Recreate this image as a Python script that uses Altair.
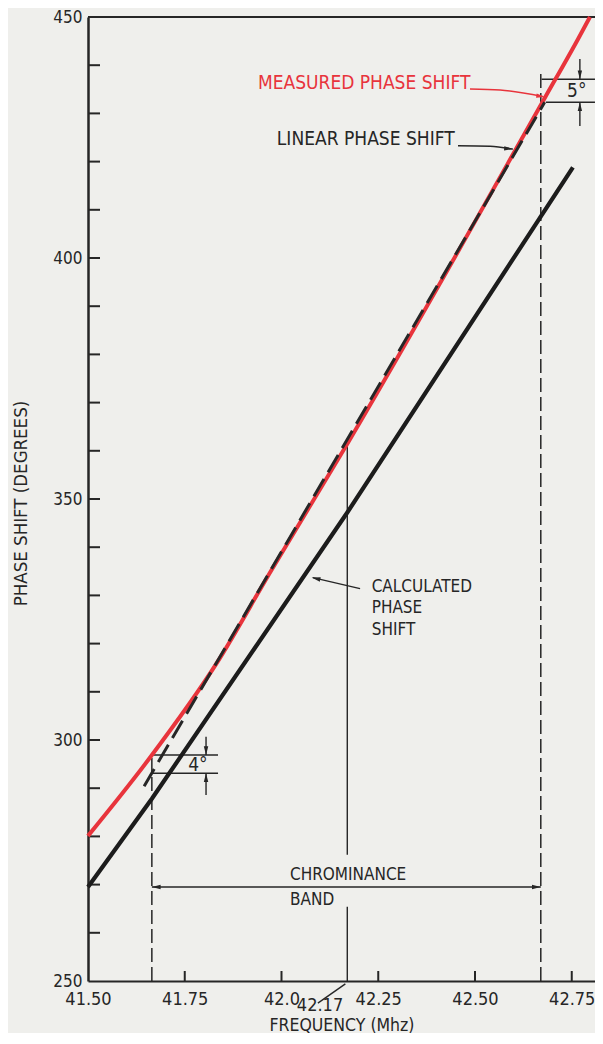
import altair as alt
import pandas as pd

FONT = "DejaVu Sans Condensed, Liberation Sans Narrow, DejaVu Sans, sans-serif"
RED = "#e8343c"
INK = "#262626"
BG = "#efefec"

W, H = 507, 964
X_MIN = 41.5
X_MAX = 41.5 + W / 387.0
Y_MIN, Y_MAX = 250, 450

# ---- data ----
calc_freq = [41.50, 41.665, 42.17, 42.753]
calc_phase = [269.5, 287.8, 347.2, 418.8]

meas_freq = [41.50, 41.656, 41.833, 41.97, 42.174, 42.681, 42.766, 42.797]
meas_phase = [280.1, 295.9, 316.0, 334.7, 362.0, 433.3, 445.4, 450.0]

lin_freq = [41.645, 42.68]
lin_phase = [290.4, 432.3]

band_lo, band_hi, band_center = 41.665, 42.67, 42.17

x_tick_values = [41.50, 41.75, 42.0, 42.25, 42.50, 42.75]
x_inner_ticks = [41.75, 42.0, 42.25, 42.50, 42.75]
y_tick_values = [250, 300, 350, 400, 450]
y_inner_ticks = [260, 270, 280, 290, 300, 310, 320, 330, 340, 350,
                 360, 370, 380, 390, 400, 410, 420, 430, 440]

# annotation texts
txt_labels = ["MEASURED PHASE SHIFT", "LINEAR PHASE SHIFT", "4°", "5°", "42.17"]
txt_f = [41.939, 41.988, 41.784, 42.763, 42.0995]
txt_p = [436.4, 424.7, 294.9, 434.7, 244.8]
txt_col = [RED, INK, INK, INK, INK]
txt_size = [19, 19, 19, 19, 18]
txt_align = ["left", "left", "center", "center", "center"]

blk_labels = ["CALCULATED\nPHASE\nSHIFT", "CHROMINANCE\nBAND"]
blk_f = [42.233, 42.022]
blk_p = [333.5, 273.6]
blk_lh = [21.7, 25.0]

# thin dimension lines (from f,p to f2,p2)
rule_f = [41.665, 41.665, 41.805, 41.805, 42.672, 42.683, 42.771, 42.771,
          band_lo, band_center, band_center]
rule_f2 = [41.836, 41.836, 41.805, 41.805, 42.81, 42.81, 42.771, 42.771,
           band_hi, band_center, band_center]
rule_p = [296.9, 293.1, 300.7, 293.1, 437.1, 432.3, 441.3, 432.3,
          269.5, 250.0, 276.2]
rule_p2 = [296.9, 293.1, 296.9, 288.6, 437.1, 432.3, 437.1, 427.4,
           269.5, 265.4, 362.0]

# dashed band edges
dash_f = [band_lo, band_hi]
dash_p2 = [297.0, 438.6]

# leader lines
lead_g = ["m", "m", "m", "l", "l", "l", "c", "c", "k", "k"]
lead_f = [42.487, 42.565, 42.675, 42.456, 42.539, 42.598, 42.203, 42.081, 42.094, 42.165]
lead_p = [435.05, 434.84, 433.5, 423.3, 423.2, 422.6, 331.4, 333.7, 245.4, 249.4]
lead_c = [RED, RED, RED, INK, INK, INK, INK, INK, INK, INK]

# arrow heads (tip position, direction in degrees clockwise from +x)
head_f = [band_hi, band_lo, 41.805, 41.805, 42.771, 42.771, 42.681, 42.598, 42.078]
head_p = [269.5, 269.5, 296.9, 293.1, 437.1, 432.3, 433.4, 422.6, 333.7]
head_a = [0, 180, 90, 270, 90, 270, 8.6, 4.3, 192.8]
head_c = [INK, INK, INK, INK, INK, INK, RED, INK, INK]

# ---- scales / axes ----
xs = alt.Scale(domain=[X_MIN, X_MAX], nice=False, zero=False)
ys = alt.Scale(domain=[Y_MIN, Y_MAX], nice=False, zero=False)

x_axis = alt.Axis(
    values=x_tick_values,
    labelExpr="datum.value == 42 ? '42.0' : format(datum.value, '.2f')",
    ticks=False, tickSize=0, grid=False,
    domainColor=INK, domainWidth=2,
    labelFont=FONT, labelFontSize=18, labelColor=INK, labelPadding=9,
    labelFlush=False, labelOverlap=False,
    title="FREQUENCY (Mhz)", titleFont=FONT, titleFontSize=17.5,
    titleFontWeight="normal", titleColor=INK, titleY=44, titleBaseline="middle",
)
y_axis = alt.Axis(
    values=y_tick_values, format="d",
    ticks=False, tickSize=0, grid=False,
    domainColor=INK, domainWidth=2.5,
    labelFont=FONT, labelFontSize=17, labelColor=INK, labelPadding=6,
    labelOverlap=False, labelFlush=False,
    title="PHASE SHIFT (DEGREES)", titleFont=FONT, titleFontSize=18.5,
    titleFontWeight="normal", titleColor=INK, titleAngle=270,
    titleX=-68, titleY=486, titleBaseline="middle", titleAlign="center",
)


def X(field="f"):
    return alt.X(f"{field}:Q", scale=xs, axis=x_axis)


def Y(field="p"):
    return alt.Y(f"{field}:Q", scale=ys, axis=y_axis)


calc_df = pd.DataFrame({"f": calc_freq, "p": calc_phase})
meas_df = pd.DataFrame({"f": meas_freq, "p": meas_phase})
lin_df = pd.DataFrame({"f": lin_freq, "p": lin_phase})

calc_line = alt.Chart(calc_df).mark_line(color="#1c1c1c", strokeWidth=4.2, strokeCap="butt").encode(x=X(), y=Y())
meas_line = alt.Chart(meas_df).mark_line(color=RED, strokeWidth=4, interpolate="monotone", strokeCap="butt").encode(x=X(), y=Y())
lin_line = alt.Chart(lin_df).mark_line(color=INK, strokeWidth=3, strokeDash=[20, 8]).encode(x=X(), y=Y())

rules_df = pd.DataFrame({"f": rule_f, "f2": rule_f2, "p": rule_p, "p2": rule_p2})
rules = alt.Chart(rules_df).mark_rule(color=INK, strokeWidth=1.4).encode(
    x=X(), x2="f2:Q", y=Y(), y2="p2:Q")

dash_df = pd.DataFrame({"f": dash_f, "p": [Y_MIN, Y_MIN], "p2": dash_p2})
dashes = alt.Chart(dash_df).mark_rule(color=INK, strokeWidth=1.5, strokeDash=[14, 5]).encode(
    x=X(), y=Y(), y2="p2:Q")

lead_df = pd.DataFrame({"f": lead_f, "p": lead_p, "g": lead_g, "c": lead_c,
                        "o": list(range(len(lead_f)))})
leaders = alt.Chart(lead_df).mark_line(strokeWidth=1.4, interpolate="monotone").encode(
    x=X(), y=Y(), detail="g:N", order="o:Q", color=alt.Color("c:N", scale=None))

head_df = pd.DataFrame({"f": head_f, "p": head_p, "a": head_a, "c": head_c})
heads = alt.Chart(head_df).mark_point(
    shape="M0,0L-2.2,-0.55L-2.2,0.55Z", filled=True, size=64, opacity=1, strokeWidth=0
).encode(x=X(), y=Y(), angle=alt.Angle("a:Q", scale=None), color=alt.Color("c:N", scale=None))

yt_df = pd.DataFrame({"p": y_inner_ticks})
y_ticks = alt.Chart(yt_df).mark_rule(color=INK, strokeWidth=2).encode(
    y=Y(), x=alt.value(0), x2=alt.value(12))

xt_df = pd.DataFrame({"f": x_inner_ticks})
x_ticks = alt.Chart(xt_df).mark_rule(color=INK, strokeWidth=2).encode(
    x=X(), y=alt.value(H), y2=alt.value(H - 10))

top_df = pd.DataFrame({"p": [Y_MAX]})
top_line = alt.Chart(top_df).mark_rule(color=INK, strokeWidth=2).encode(
    y=Y(), x=alt.value(0), x2=alt.value(W))

layers = [top_line, y_ticks, x_ticks, dashes, rules, leaders, heads,
          calc_line, meas_line, lin_line]

for i, t in enumerate(txt_labels):
    d = pd.DataFrame({"f": [txt_f[i]], "p": [txt_p[i]], "t": [t]})
    layers.append(alt.Chart(d).mark_text(
        font=FONT, fontSize=txt_size[i], color=txt_col[i], align=txt_align[i],
        baseline="middle").encode(x=X(), y=Y(), text="t:N"))

for i, t in enumerate(blk_labels):
    d = pd.DataFrame({"f": [blk_f[i]], "p": [blk_p[i]], "t": [t]})
    layers.append(alt.Chart(d).mark_text(
        font=FONT, fontSize=17, color=INK, align="left", baseline="top",
        lineBreak="\n", lineHeight=blk_lh[i]).encode(x=X(), y=Y(), text="t:N"))

chart = alt.layer(*layers).properties(
    width=W, height=H,
    autosize=alt.AutoSizeParams(type="none"),
    padding={"left": 80, "top": 9, "right": 0, "bottom": 52},
    background=BG,
).configure_view(stroke=None)

chart.save("out.html", embed_options={"renderer": "svg", "actions": False})
